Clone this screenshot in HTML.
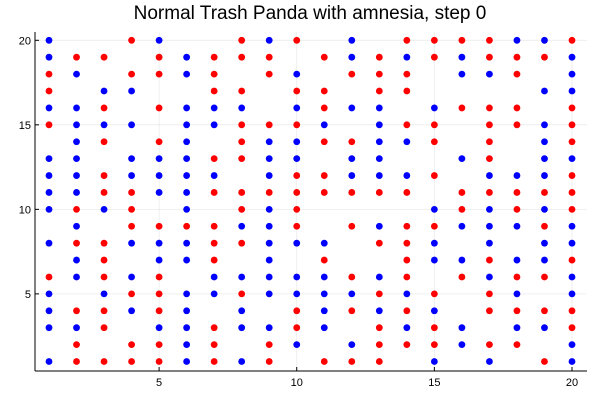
<!DOCTYPE html>
<html><head><meta charset="utf-8">
<style>
html,body{margin:0;padding:0;background:#fff;}
svg{display:block;font-family:"Liberation Sans",sans-serif;}
</style></head>
<body>
<svg id="chart" width="600" height="400" viewBox="0 0 600 400">
<text x="310" y="19" text-anchor="middle" font-size="19" fill="#000">Normal Trash Panda with amnesia, step 0</text>
<g id="grid"></g>
<g id="marks"></g>
<g id="axes"></g>
</svg>
<script>
// Each string is one y row (y = 20 down to 1); character i is x = i+1. B = blue, R = red, . = no point
const rowYs = [20,19,18,17,16,15,14,13,12,11,10,9,8,7,6,5,4,3,2,1];
const rowCells = [
"B..RB..RBR.B.RRRRBBR",
"BRR.RBRRR.RBRBRBRRRB",
"RB.RRBR.RB.RRR.BBR.B",
"R.BB..RR.RR.RR....BB",
"BBR.RBBB.BRBB.BRRR.R",
"RBBB.BBRRRB.BRR.RRBR",
".BR.RB.RBBRRBBR.R.BR",
"BB.BBBRRBB.BB..BR.BB",
"BBRBBBB.BRRBBBR.BBBR",
"BBRRBBRRRRRRRR.RRRRR",
"BRBR.B.RBR....BRBRBR",
".B.RRRRBBR.RBRRBBBRB",
"BRRBBBRRBBB.RRB.B.BB",
".BR.BBR.B.R..RBBRBBR",
"RBRBR.BBBBBRBR.RBRRB",
"B.BRRBBRBBBBRBR.RB.B",
"BRRBRB.B.RBRBRB.RRRR",
"BBR.BBRBBRB.RBRB.BBR",
".R.RRBR.RB.BRRRBRR.B",
"BRRRRBRBR.RRR.B.B.RB"
];
const xTicks = [5,10,15,20];
const yTicks = [5,10,15,20];
const colorMap = {B:"#0000ff", R:"#ff0000"};

const NS="http://www.w3.org/2000/svg";
const X0=35, X1=587, Y0=32, Y1=371;
function sx(v){return 49 + (v-1)*(523/19);}
function sy(v){return 361.5 - (v-1)*(321.2/19);}
function mk(tag,attrs,parent){const e=document.createElementNS(NS,tag);for(const k in attrs)e.setAttribute(k,attrs[k]);parent.appendChild(e);return e;}

const grid=document.getElementById('grid');
const axes=document.getElementById('axes');
const marks=document.getElementById('marks');

xTicks.forEach(t=>{
  const l=mk('line',{x1:sx(t),x2:sx(t),y1:Y0,y2:Y1,stroke:'#000','stroke-opacity':0.08,'stroke-width':0.8},grid);
  
  
  const tk=mk('line',{x1:sx(t),x2:sx(t),y1:Y1,y2:Y1-4,stroke:'#000','stroke-width':1},axes);
  
  
  const tx=mk('text',{x:sx(t),y:Y1+15,'text-anchor':'middle','font-size':11,fill:'#000'},axes);
  tx.textContent=t;
  
  
});
yTicks.forEach(t=>{
  const l=mk('line',{x1:X0,x2:X1,y1:sy(t),y2:sy(t),stroke:'#000','stroke-opacity':0.08,'stroke-width':0.8},grid);
  
  
  const tk=mk('line',{x1:X0,x2:X0+4,y1:sy(t),y2:sy(t),stroke:'#000','stroke-width':1},axes);
  
  
  const tx=mk('text',{x:X0-4,y:sy(t)+4,'text-anchor':'end','font-size':11,fill:'#000'},axes);
  tx.textContent=t;
  
  
});
const xa=mk('line',{x1:X0,x2:X1,y1:Y1,y2:Y1,stroke:'#000','stroke-width':1},axes);


const ya=mk('line',{x1:X0,x2:X0,y1:Y0,y2:Y1,stroke:'#000','stroke-width':1},axes);



rowCells.forEach((row,ri)=>{
  const y=rowYs[ri];
  for(let i=0;i<row.length;i++){
    const c=row[i];
    if(!colorMap[c])continue;
    const p=mk('circle',{cx:sx(i+1),cy:sy(y),r:3.4,fill:colorMap[c]},marks);
    
    
  }
});
</script>
</body></html>
